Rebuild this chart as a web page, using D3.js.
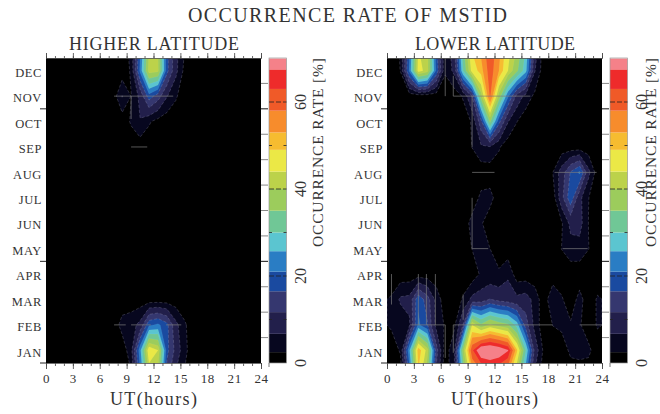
<!DOCTYPE html>
<html><head><meta charset="utf-8">
<script src="https://cdnjs.cloudflare.com/ajax/libs/d3/7.8.5/d3.min.js"></script>
<style>html,body{margin:0;background:#fff;overflow:hidden}svg{display:block}text{font-family:"Liberation Serif",serif;fill:#333}</style>
</head><body><svg id="c" width="660" height="414"></svg>
<script>
const months = ["JAN","FEB","MAR","APR","MAY","JUN","JUL","AUG","SEP","OCT","NOV","DEC"];
const hourTicks = [0,3,6,9,12,15,18,21,24];
const levels = [2.5,6.7,11.7,16.5,21,25.7,30,35,40,44,49,53,58,63,67.5];
const colors = ["#000000","#07071f","#221f4b","#35376f","#1a4aa0","#2a7dc4","#5bc5d0","#70c796","#9ccc5c","#bcd24a","#ebe846","#f6bc30","#f78c2c","#f05a28","#ee2b2b","#f58189"];
const barTicks = [0,20,40,60];

// one row per month, one value per hour bin (0.5 ... 23.5 UT); Below/Above are the rows just off each end of the year
const highBelow = [0,0,0,0,0,0,0,0,0,2,20,40,38,14,6,2,0,0,0,0,0,0,0,0];
const highJan = [0,0,0,0,0,0,0,0,0,5,24,48,44,18,10,3.5,0,0,0,0,0,0,0,0];
const highFeb = [0,0,0,0,0,0,0,0,4,5,8,20,22,18,8,3,0,0,0,0,0,0,0,0];
const highMar = [0,0,0,0,0,0,0,0,0,0,0,0,0,0,0,0,0,0,0,0,0,0,0,0];
const highApr = [0,0,0,0,0,0,0,0,0,0,0,0,0,0,0,0,0,0,0,0,0,0,0,0];
const highMay = [0,0,0,0,0,0,0,0,0,0,0,0,0,0,0,0,0,0,0,0,0,0,0,0];
const highJun = [0,0,0,0,0,0,0,0,0,0,0,0,0,0,0,0,0,0,0,0,0,0,0,0];
const highJul = [0,0,0,0,0,0,0,0,0,0,0,0,0,0,0,0,0,0,0,0,0,0,0,0];
const highAug = [0,0,0,0,0,0,0,0,0,0,0,0,0,0,0,0,0,0,0,0,0,0,0,0];
const highSep = [0,0,0,0,0,0,0,0,0,0,0,0,0,0,0,0,0,0,0,0,0,0,0,0];
const highOct = [0,0,0,0,0,0,0,0,0,3,6.5,3,1,0,0,0,0,0,0,0,0,0,0,0];
const highNov = [0,0,0,0,0,0,0,0,7,2.4,8,19,14,7,3,0,0,0,0,0,0,0,0,0];
const highDec = [0,0,0,0,0,0,0,0,0,3,22,42,41,18,8,1,0,0,0,0,0,0,0,0];
const highAbove = [0,0,0,0,0,0,0,0,0,4,20,40,40,18,8,2.4,0,0,0,0,0,0,0,0];

const lowBelow = [0,0,18,48,36,10,0,6,30,50,54,57,56,52,38,22,6,0,0,0,0,0,0,0];
const lowJan = [0,3,25,52,42,14,0,6,38,62,73,74,72,68,50,30,10,1.5,0,0,3.5,4,3.5,0];
const lowFeb = [3.2,3.2,6,22,17,5,2,1.5,12,44,36,41,38,36,28,14,5,0,2.6,3.5,3,3,0,3];
const lowMar = [3,7.5,8,20,14,5,0,0,3,8,9,12,10,9,8,9,5,0,6,3,0,4,0,3];
const lowApr = [0,0,0,0,0,0,0,0,0,0,3.2,3.2,3.2,6,0,0,0,0,0,0,0,0,0,0];
const lowMay = [0,0,0,0,0,0,0,0,0,2.6,5.4,2.5,0,0,0,0,0,0,0,2.6,5,5,2.6,0];
const lowJun = [0,0,0,0,0,0,0,0,0,4,3,0,0,0,0,0,0,0,0,2,8,8.5,2.4,0];
const lowJul = [0,0,0,0,0,0,0,0,0,0,3.5,4,0,0,0,0,0,0,0,10,20,8,2.6,0];
const lowAug = [0,0,0,0,0,0,0,0,0,0,0,0,0,0,0,0,0,0,2.4,9,17,22,8,0];
const lowSep = [0,0,0,0,0,0,0,0,0,2.6,6,6.4,3,0,0,0,0,0,0,0,0,0,0,0];
const lowOct = [0,0,0,0,0,0,0,0,0,3,15,36,18,7,2.6,0,0,0,0,0,0,0,0,0];
const lowNov = [0,0,0,0,0,0,0,0,3,12,38,59,38,22,10,5,1.5,0,0,0,0,0,0,0];
const lowDec = [0,2.6,22,46,42,20,3,8,30,46,51,61,53,44,36,27,7,0,0,0,0,0,0,0];
const lowAbove = [0,3,20,44,42,18,3,10,34,50,55,62,55,46,40,30,10,0,0,0,0,0,0,0];

// thin grey trace segments: [hourStart, hourEnd, monthPosStart, monthPosEnd]
const highTraces = [[7.6,14.2,10.5,10.5],[9.5,11.3,8.5,8.5],[7.6,8.9,1.5,1.5],[9.5,11.7,1.5,1.5],[13.4,15.1,1.5,1.5],[9.5,9.5,9.6,10.5]];
const lowTraces = [[7.4,16,10.5,10.5],[9.5,12,7.5,7.5],[18.7,23.4,7.5,7.5],[2.6,6.5,1.5,1.5],[7.4,18.5,1.5,1.5],[21.5,24,1.5,1.5],
  [9.5,11.3,4.5,4.5],[19.6,22.4,4.5,4.5],[0.5,0.5,2.3,3.5],[3.5,3.5,1.5,3.5],[4.4,4.4,1.5,3.5],[5.4,5.4,1.5,3.5],[6.5,6.5,0.2,1.5],
  [6.5,6.5,10.5,12],[7.4,7.4,10.5,11.3],[9.5,9.5,8.5,10.5],[9.5,9.5,4.5,6.5],[8.5,8.5,1.7,2.7],[7.4,7.4,0.4,1.5]];

const high = [highBelow,highJan,highFeb,highMar,highApr,highMay,highJun,highJul,highAug,highSep,highOct,highNov,highDec,highAbove];
const low = [lowBelow,lowJan,lowFeb,lowMar,lowApr,lowMay,lowJun,lowJul,lowAug,lowSep,lowOct,lowNov,lowDec,lowAbove];

const svg = d3.select("#c");
const top_ = 58, bottom = 363, plotW = 215;
const y = d3.scaleLinear().domain([0,12]).range([bottom,top_]);
const yBand = d3.scaleBand().domain(months).range([bottom,top_]);
const barY = d3.scaleLinear().domain([0,70]).range([bottom,top_ + 0.5]);

svg.append("text").attr("x",347.5).attr("y",22).attr("text-anchor","middle")
  .attr("font-size",20).attr("textLength",319).attr("lengthAdjust","spacing").text("OCCURRENCE RATE OF MSTID");

const contour = d3.contours().size([24,14]).thresholds(levels);

function panel(id, rows, left, title, traces, titleX, titleW, labelShift){
  const g = svg.append("g");
  const x = d3.scaleLinear().domain([0,24]).range([left,left+plotW]);
  const clip = "clip"+id;
  g.append("clipPath").attr("id",clip).append("rect").attr("x",left).attr("y",top_).attr("width",plotW).attr("height",bottom-top_);
  const plot = g.append("g").attr("clip-path",`url(#${clip})`);
  plot.append("rect").attr("x",left).attr("y",top_).attr("width",plotW).attr("height",bottom-top_).attr("fill",colors[0]);
  const proj = d3.geoTransform({point(a,b){this.stream.point(x(a),y(b-1));}});
  const path = d3.geoPath(proj);
  const shapes = contour(rows.flat());
  plot.selectAll("path.band").data(shapes).join("path").attr("class","band")
    .attr("d",path).attr("fill",(d,i)=>colors[i+1])
    .attr("stroke",(d,i)=>i<4?"#a9a9c4":"rgba(255,255,255,.18)")
    .attr("stroke-width",.5).attr("stroke-dasharray",(d,i)=>i<4?"3 2":null).attr("stroke-opacity",.5);
  plot.selectAll("line.trace").data(traces).join("line").attr("class","trace")
    .attr("x1",d=>x(d[0])).attr("x2",d=>x(d[1])).attr("y1",d=>y(d[2])).attr("y2",d=>y(d[3]))
    .attr("stroke","#7c7c7c").attr("stroke-width",.7);

  // hour axes
  const minor = d3.range(0,25);
  const axB = g.append("g").attr("transform",`translate(0,${bottom})`);
  axB.call(d3.axisBottom(x).tickValues(minor).tickSize(3).tickFormat(""));
  const axB2 = g.append("g").attr("transform",`translate(0,${bottom})`);
  axB2.call(d3.axisBottom(x).tickValues(hourTicks).tickSize(6).tickPadding(5).tickFormat(d3.format("d")));
  axB2.selectAll("text").attr("font-size",13).attr("font-family","Liberation Serif").attr("fill","#333").style("letter-spacing","0.6px");
  const axT = g.append("g").attr("transform",`translate(0,${top_})`);
  axT.call(d3.axisTop(x).tickValues(minor).tickSize(2).tickFormat(""));
  const axT2 = g.append("g").attr("transform",`translate(0,${top_})`);
  axT2.call(d3.axisTop(x).tickValues(hourTicks).tickSize(5).tickFormat(""));
  [axB,axB2,axT,axT2].forEach(a=>{a.select(".domain").attr("stroke","#555").attr("stroke-width",.6);a.selectAll("line").attr("stroke","#444").attr("stroke-width",.8);});

  // month axes
  const axL = g.append("g").attr("transform",`translate(${left},0)`);
  axL.call(d3.axisLeft(yBand).tickSize(0).tickPadding(4));
  axL.select(".domain").remove();
  axL.selectAll("text").attr("font-size",12.5).attr("font-family","Liberation Serif").attr("fill","#333").attr("dy","0.5em").style("letter-spacing","0.6px");
  const edges = d3.range(0,13);
  const major = [0,4,10];
  g.selectAll("line.el").data(major).join("line").attr("class","el").attr("x1",left-6).attr("x2",left)
    .attr("y1",d=>y(d)).attr("y2",d=>y(d)).attr("stroke","#222");
  g.selectAll("line.er").data(edges.slice(1,12)).join("line").attr("class","er").attr("x1",left+plotW).attr("x2",left+plotW+7)
    .attr("y1",d=>y(d)).attr("y2",d=>y(d)).attr("stroke",d=>(d===4||d===10)?"#111":"#888");

  g.append("text").attr("x",titleX).attr("y",50).attr("font-size",18).attr("textLength",titleW).attr("lengthAdjust","spacing").text(title);
  g.append("text").attr("x",left+plotW/2).attr("y",405).attr("text-anchor","middle").attr("font-size",18)
    .attr("textLength",87).attr("lengthAdjust","spacing").text("UT(hours)");

  // colour bar
  const bx = left+223, bw = 17.5;
  const edgesV = [0,...levels,70];
  g.selectAll("rect.bar").data(colors).join("rect").attr("class","bar").attr("x",bx).attr("width",bw)
    .attr("y",(d,i)=>barY(edgesV[i+1])).attr("height",(d,i)=>barY(edgesV[i])-barY(edgesV[i+1])).attr("fill",d=>d);
  g.append("rect").attr("x",bx).attr("y",top_).attr("width",bw).attr("height",bottom-top_).attr("fill","none").attr("stroke","#999").attr("stroke-width",.7);
  const dashed = [10,20,30,40,50,60];
  g.selectAll("line.bt").data(dashed).join("line").attr("class","bt").attr("x1",bx).attr("x2",bx+bw)
    .attr("y1",d=>barY(d)).attr("y2",d=>barY(d)).attr("stroke","#222").attr("stroke-width",.8)
    .attr("stroke-dasharray",d=>d%20===0?"5 2":"3 11.5");
  g.selectAll("text.bl").data(barTicks).join("text").attr("class","bl").attr("font-size",16).attr("text-anchor","middle")
    .attr("transform",d=>`translate(${bx+37},${barY(d)}) rotate(-90)`).text(d3.format("d"));
  g.append("line").attr("x1",bx).attr("x2",bx).attr("y1",bottom).attr("y2",bottom+4).attr("stroke","#777");
  g.append("text").attr("font-size",15.5).attr("textLength",189).attr("lengthAdjust","spacing")
    .attr("transform",`translate(${bx+54-labelShift},247) rotate(-90)`).text("OCCURRENCE RATE [%]");
}
panel("a",high,46,"HIGHER LATITUDE",highTraces,69,170,0);
panel("b",low,387,"LOWER LATITUDE",lowTraces,415,160,8);
</script></body></html>
